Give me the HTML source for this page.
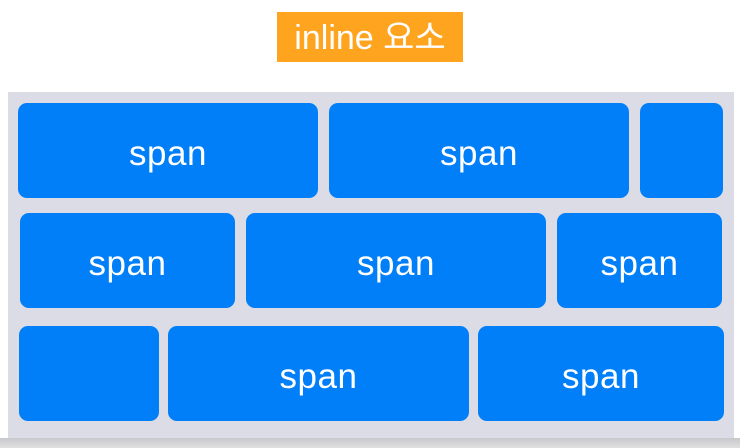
<!DOCTYPE html>
<html><head><style>
body{margin:0;width:740px;height:448px;background:#fff;position:relative;overflow:hidden;font-family:"Liberation Sans","Noto Sans CJK KR",sans-serif}
.t{position:absolute;left:277px;top:12px;width:186px;height:50px;background:#ffa41f;color:#fff;font-size:34px;line-height:52px;text-align:center}
.c{position:absolute;left:8px;top:92px;width:726px;height:346px;background:#dcdce6}
.f{position:absolute;left:0;top:438px;width:740px;height:10px;background:linear-gradient(#c8c8cc,#e0e0e0)}
.b{position:absolute;height:95px;background:#007ff8;border-radius:9px;color:#fff;font-size:35px;line-height:101px;text-align:center;letter-spacing:0.5px}
</style></head><body>
<div class="t">inline 요소</div>
<div class="c"></div><div class="f"></div>
<div class="b" style="left:18px;top:103px;width:300px">span</div>
<div class="b" style="left:329px;top:103px;width:300px">span</div>
<div class="b" style="left:640px;top:103px;width:83px"></div>
<div class="b" style="left:20px;top:213px;width:215px">span</div>
<div class="b" style="left:246px;top:213px;width:300px">span</div>
<div class="b" style="left:557px;top:213px;width:165px">span</div>
<div class="b" style="left:19px;top:326px;width:140px"></div>
<div class="b" style="left:168px;top:326px;width:301px">span</div>
<div class="b" style="left:478px;top:326px;width:246px">span</div>
</body></html>
